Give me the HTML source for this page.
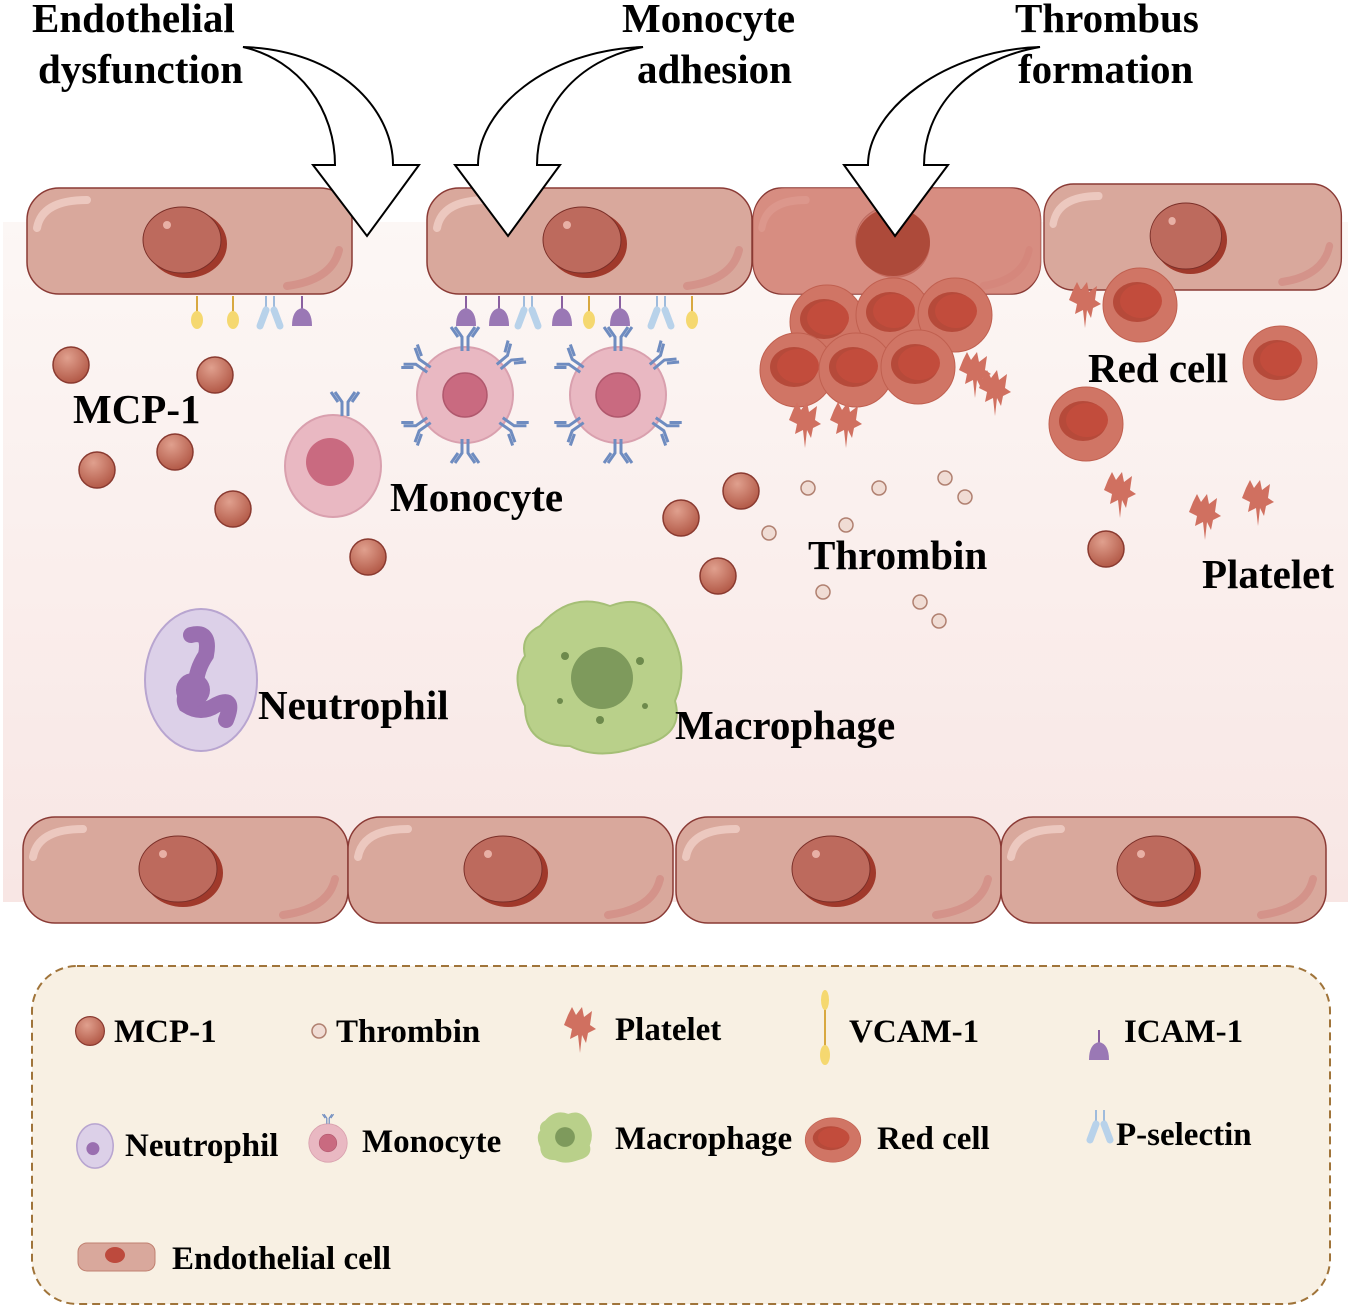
<!DOCTYPE html>
<html><head><meta charset="utf-8"><style>
body{margin:0;background:#fff}
svg{display:block}
text{font-family:"Liberation Serif",serif;font-weight:bold;fill:#000}
</style></head><body>
<svg width="1350" height="1310" viewBox="0 0 1350 1310" xmlns="http://www.w3.org/2000/svg">
<defs>
<linearGradient id="bg" x1="0" y1="0" x2="0" y2="1"><stop offset="0" stop-color="#fcf7f5"/><stop offset="1" stop-color="#f8e6e4"/></linearGradient>
<radialGradient id="mcp" cx="0.4" cy="0.3" r="0.7"><stop offset="0" stop-color="#e0a08e"/><stop offset="1" stop-color="#b35a48"/></radialGradient>
<g id="endo">
<rect x="0" y="0" width="325" height="106" rx="32" fill="#d9a89c" stroke="#8a3a35" stroke-width="1.5"/>
<path d="M10,40 Q15,12 60,12" stroke="#ecc8bf" stroke-width="8" fill="none" stroke-linecap="round"/>
<path d="M260,98 Q305,92 312,62" stroke="#d4938a" stroke-width="8" fill="none" stroke-linecap="round"/>
<ellipse cx="160" cy="56" rx="40" ry="34" fill="#a0392b"/>
<ellipse cx="155" cy="52" rx="39" ry="33" fill="#bd6a5d" stroke="#7a2f28" stroke-width="1"/>
<circle cx="140" cy="37" r="4" fill="#e8b0a5"/>
</g>
<g id="mc"><circle r="18" fill="url(#mcp)" stroke="#8a3a30" stroke-width="1.5"/></g>
<g id="th"><circle r="7" fill="#f0dcd4" stroke="#b08070" stroke-width="1.5"/></g>
<g id="rbc"><circle r="37" fill="#d07565" stroke="#c06050" stroke-width="1"/><ellipse cx="-3" cy="-3" rx="24" ry="20" fill="#b64a3a"/><ellipse cx="1" cy="-4" rx="21" ry="17" fill="#c24c3c"/></g>
<g id="plt"><path d="M-12,-10 L-8,-18 L-4,-10 L2,-18 L4,-8 L12,-14 L10,0 L16,4 L8,8 L6,18 L2,10 L0,28 L-2,10 L-10,14 L-8,4 L-16,0 Z" fill="#d07060"/></g>
<g id="ab" stroke="#6f8cc0" stroke-width="3" fill="none"><path d="M-3,0 V-14 L-10,-24 M3,0 V-14 L10,-24 M-7,-14 L-14,-24 M7,-14 L14,-24"/></g>
<g id="mono"><ellipse rx="48" ry="48" fill="#e9b8c2" stroke="#d9a0ae" stroke-width="2"/><circle r="22" fill="#c96a80" stroke="#b0586d" stroke-width="1.5"/></g>
<g id="vc"><line x1="0" y1="0" x2="0" y2="18" stroke="#d8a840" stroke-width="2"/><ellipse cx="0" cy="24" rx="6" ry="9" fill="#f5d870"/></g>
<g id="ic"><line x1="0" y1="0" x2="0" y2="14" stroke="#8a60a0" stroke-width="2"/><path d="M-10,30 Q-10,14 0,12 Q10,14 10,30 Z" fill="#9a78b5"/></g>
<g id="ps"><path d="M-4,0 V10 L-10,28 M4,0 V10 L10,28" stroke="#9fbbdc" stroke-width="2" fill="none"/><line x1="-4" y1="14" x2="-10" y2="30" stroke="#b8d2ea" stroke-width="7" stroke-linecap="round"/><line x1="4" y1="14" x2="10" y2="30" stroke="#b8d2ea" stroke-width="7" stroke-linecap="round"/></g>
</defs>
<rect x="3" y="222" width="1345" height="680" fill="url(#bg)"/>
<use href="#endo" x="27" y="188"/><use href="#endo" x="427" y="188"/>
<g transform="translate(753,188) scale(0.885,1)"><use href="#endo"/></g>
<rect x="753" y="188" width="288" height="106" rx="32" fill="#d58276" opacity="0.7"/>
<ellipse cx="893" cy="242" rx="37" ry="34" fill="#ad4a3a"/>
<g transform="translate(1044,184) scale(0.915,1)"><use href="#endo"/></g>
<use href="#endo" x="23" y="817"/><use href="#endo" x="348" y="817"/><use href="#endo" x="676" y="817"/><use href="#endo" x="1001" y="817"/>
<use href="#vc" x="197" y="296"/><use href="#vc" x="233" y="296"/><use href="#ps" x="270" y="296"/><use href="#ic" x="302" y="296"/>
<use href="#ic" x="466" y="296"/><use href="#ic" x="499" y="296"/><use href="#ps" x="528" y="296"/><use href="#ic" x="562" y="296"/><use href="#vc" x="589" y="296"/><use href="#ic" x="620" y="296"/><use href="#ps" x="661" y="296"/><use href="#vc" x="692" y="296"/>
<g fill="#fff" stroke="#000" stroke-width="2">
<path d="M243,47 C340,50 393,110 393,165 L419,165 L367,236 L313,165 L335,165 C335,110 300,60 243,47 Z"/>
<path d="M643,47 C546,50 478,110 478,165 L455,165 L508,236 L560,165 L537,165 C537,110 575,60 643,47 Z"/>
<path d="M1040,47 C945,50 868,110 868,165 L844,165 L895,236 L948,165 L924,165 C924,110 965,60 1040,47 Z"/>
</g>
<text x="32" y="32" font-size="41">Endothelial</text>
<text x="38" y="83" font-size="41">dysfunction</text>
<text x="622" y="32" font-size="41">Monocyte</text>
<text x="637" y="83" font-size="41">adhesion</text>
<text x="1015" y="32" font-size="41">Thrombus</text>
<text x="1018" y="83" font-size="41">formation</text>
<use href="#mc" x="71" y="365"/><use href="#mc" x="215" y="375"/><use href="#mc" x="175" y="452"/><use href="#mc" x="97" y="470"/><use href="#mc" x="233" y="509"/><use href="#mc" x="368" y="557"/><use href="#mc" x="741" y="491"/><use href="#mc" x="681" y="518"/><use href="#mc" x="718" y="576"/><use href="#mc" x="1106" y="549"/>
<text x="73" y="423" font-size="41">MCP-1</text>
<g transform="translate(333,466)"><ellipse rx="48" ry="51" fill="#e9b8c2" stroke="#d9a0ae" stroke-width="2"/><circle cx="-3" cy="-4" r="24" fill="#c96a80"/><use href="#ab" x="12" y="-50"/></g>
<text x="390" y="511" font-size="41">Monocyte</text>
<g transform="translate(465,395)"><use href="#mono"/><use href="#ab" y="-44"/><use href="#ab" transform="rotate(50) translate(0,-44)"/><use href="#ab" transform="rotate(125) translate(0,-44)"/><use href="#ab" transform="rotate(180) translate(0,-44)"/><use href="#ab" transform="rotate(235) translate(0,-44)"/><use href="#ab" transform="rotate(305) translate(0,-44)"/></g>
<g transform="translate(618,395)"><use href="#mono"/><use href="#ab" y="-44"/><use href="#ab" transform="rotate(50) translate(0,-44)"/><use href="#ab" transform="rotate(125) translate(0,-44)"/><use href="#ab" transform="rotate(180) translate(0,-44)"/><use href="#ab" transform="rotate(235) translate(0,-44)"/><use href="#ab" transform="rotate(305) translate(0,-44)"/></g>
<use href="#rbc" x="827" y="322"/><use href="#rbc" x="893" y="315"/><use href="#rbc" x="955" y="315"/><use href="#rbc" x="797" y="370"/><use href="#rbc" x="856" y="370"/><use href="#rbc" x="918" y="367"/>
<use href="#rbc" x="1140" y="305"/><use href="#rbc" x="1280" y="363"/><use href="#rbc" x="1086" y="424"/>
<use href="#plt" x="805" y="420"/><use href="#plt" x="846" y="420"/><use href="#plt" x="975" y="370"/><use href="#plt" x="995" y="388"/><use href="#plt" x="1085" y="300"/><use href="#plt" x="1120" y="490"/><use href="#plt" x="1205" y="512"/><use href="#plt" x="1258" y="498"/>
<text x="1088" y="382" font-size="41">Red cell</text>
<text x="1202" y="588" font-size="41">Platelet</text>
<use href="#th" x="808" y="488"/><use href="#th" x="879" y="488"/><use href="#th" x="945" y="478"/><use href="#th" x="965" y="497"/><use href="#th" x="846" y="525"/><use href="#th" x="769" y="533"/><use href="#th" x="823" y="592"/><use href="#th" x="920" y="602"/><use href="#th" x="939" y="621"/>
<text x="808" y="569" font-size="41">Thrombin</text>
<g transform="translate(201,680)"><ellipse rx="56" ry="71" fill="#dcd0e8" stroke="#b8a5d0" stroke-width="2"/><path d="M-10,-45 Q10,-50 5,-25 Q-5,-10 -5,5 Q-20,15 -15,25 Q0,35 15,25 Q35,15 25,40" stroke="#9a6fb0" stroke-width="16" fill="none" stroke-linecap="round"/><circle cx="-8" cy="10" r="17" fill="#9a6fb0"/></g>
<text x="258" y="719" font-size="41">Neutrophil</text>
<g transform="translate(600,676)"><path d="M-60,-50 Q-30,-85 10,-70 Q50,-85 70,-45 Q90,-10 75,25 Q85,60 40,70 Q0,85 -30,70 Q-75,70 -75,30 Q-90,0 -75,-20 Q-80,-40 -60,-50 Z" fill="#b9d08a" stroke="#a5bf76" stroke-width="2"/><circle cx="2" cy="2" r="31" fill="#7e9a5c"/><circle cx="-35" cy="-20" r="4" fill="#6d8a4c"/><circle cx="40" cy="-15" r="4" fill="#6d8a4c"/><circle cx="0" cy="44" r="4" fill="#6d8a4c"/><circle cx="-40" cy="25" r="3" fill="#6d8a4c"/><circle cx="45" cy="30" r="3" fill="#6d8a4c"/></g>
<text x="675" y="739" font-size="41">Macrophage</text>
<rect x="32" y="966" width="1298" height="338" rx="45" fill="#f8f0e3" stroke="#a0743a" stroke-width="2" stroke-dasharray="8,5"/>
<use href="#mc" transform="translate(90,1031) scale(0.8)"/><text x="114" y="1042" font-size="33">MCP-1</text>
<use href="#th" x="319" y="1031"/><text x="336" y="1042" font-size="33">Thrombin</text>
<use href="#plt" x="580" y="1025"/><text x="615" y="1040" font-size="33">Platelet</text>
<g transform="translate(825,995)"><line x1="0" y1="0" x2="0" y2="60" stroke="#d8a840" stroke-width="2"/><ellipse cx="0" cy="5" rx="4" ry="10" fill="#f5d870"/><ellipse cx="0" cy="60" rx="5" ry="10" fill="#f5d870"/></g><text x="849" y="1042" font-size="33">VCAM-1</text>
<use href="#ic" x="1099" y="1030"/><text x="1124" y="1042" font-size="33">ICAM-1</text>
<g transform="translate(95,1146) scale(0.26)"><ellipse rx="70" ry="85" fill="#dcd0e8" stroke="#b8a5d0" stroke-width="6"/><circle cx="-8" cy="10" r="25" fill="#9a6fb0"/></g><text x="125" y="1156" font-size="33">Neutrophil</text>
<g transform="translate(328,1143) scale(0.4)"><use href="#mono"/><use href="#ab" y="-48"/></g><text x="362" y="1152" font-size="33">Monocyte</text>
<g transform="translate(565,1137) scale(0.33)"><path d="M-60,-50 Q-30,-85 10,-70 Q50,-85 70,-45 Q90,-10 75,25 Q85,60 40,70 Q0,85 -30,70 Q-75,70 -75,30 Q-90,0 -75,-20 Q-80,-40 -60,-50 Z" fill="#b9d08a"/><circle r="30" fill="#7e9a5c"/></g><text x="615" y="1149" font-size="33">Macrophage</text>
<g transform="translate(833,1140) scale(0.75,0.6)"><use href="#rbc"/></g><text x="877" y="1149" font-size="33">Red cell</text>
<use href="#ps" x="1100" y="1110"/><text x="1116" y="1145" font-size="33">P-selectin</text>
<rect x="78" y="1243" width="77" height="28" rx="9" fill="#d9a89c" stroke="#c08070"/><ellipse cx="115" cy="1255" rx="10" ry="8" fill="#bd4a3d"/><text x="172" y="1269" font-size="33">Endothelial cell</text>
</svg>
</body></html>
